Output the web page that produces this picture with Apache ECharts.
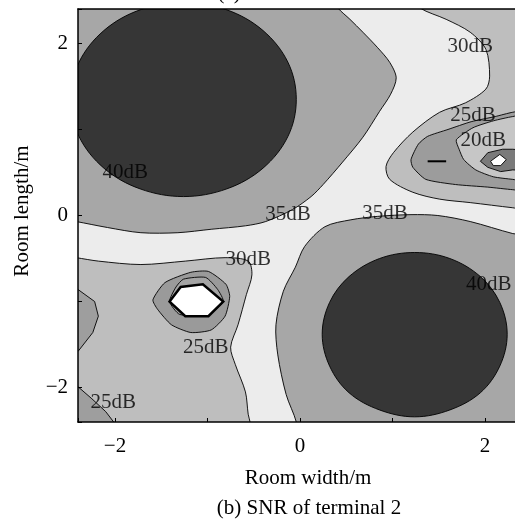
<!DOCTYPE html>
<html>
<head>
<meta charset="utf-8">
<script src="https://cdn.jsdelivr.net/npm/echarts@6/dist/echarts.min.js"></script>
<style>
  html, body { margin: 0; padding: 0; background: #fff; }
  #chart { width: 515px; height: 523px; }
</style>
</head>
<body>
<div id="chart"></div>
<script>
// contour boundaries, in metres (room width, room length)
const ulBand35 = [[-2.5,2.5],[0.36,2.5],[0.41,2.41],[0.54,2.28],[0.68,2.13],[0.84,1.95],[0.97,1.78],[1.04,1.60],[0.98,1.41],[0.86,1.21],[0.68,0.91],[0.46,0.62],[0.25,0.36],[0.12,0.22],[-0.08,0.07],[-0.37,-0.07],[-0.59,-0.12],[-0.96,-0.16],[-1.32,-0.20],[-1.72,-0.20],[-2.08,-0.14],[-2.42,-0.07],[-2.5,-0.06]];
const ulPeak40 = [[-0.04,1.35],[-0.13,1.78],[-0.40,2.15],[-0.79,2.39],[-1.26,2.48],[-1.73,2.39],[-2.12,2.15],[-2.39,1.78],[-2.48,1.35],[-2.39,0.92],[-2.12,0.55],[-1.73,0.31],[-1.26,0.22],[-0.79,0.31],[-0.40,0.55],[-0.13,0.92]];
const lrBand35 = [[-0.05,-2.5],[-0.04,-2.40],[-0.15,-2.08],[-0.24,-1.62],[-0.26,-1.27],[-0.18,-0.88],[-0.05,-0.60],[0.05,-0.36],[0.27,-0.13],[0.55,-0.05],[0.84,-0.01],[1.20,0.01],[1.49,0.0],[1.84,-0.07],[2.30,-0.21],[2.5,-0.25],[2.5,-2.5]];
const lrPeak40 = [[2.24,-1.38],[2.16,-1.01],[1.95,-0.71],[1.62,-0.50],[1.24,-0.43],[0.86,-0.50],[0.53,-0.71],[0.32,-1.01],[0.24,-1.38],[0.32,-1.75],[0.53,-2.06],[0.86,-2.26],[1.24,-2.34],[1.62,-2.26],[1.95,-2.06],[2.16,-1.75]];
const llBand25 = [[-2.5,-0.48],[-2.42,-0.49],[-2.18,-0.53],[-1.72,-0.57],[-1.24,-0.53],[-0.81,-0.49],[-0.56,-0.53],[-0.52,-0.69],[-0.58,-0.92],[-0.67,-1.27],[-0.75,-1.53],[-0.70,-1.73],[-0.59,-2.05],[-0.56,-2.31],[-0.54,-2.40],[-0.53,-2.5],[-2.5,-2.5]];
const leftDip20 = [[-2.5,-0.84],[-2.40,-0.86],[-2.22,-1.0],[-2.18,-1.17],[-2.24,-1.36],[-2.40,-1.58],[-2.5,-1.62]];
const cornerDip20 = [[-2.5,-1.92],[-2.40,-1.99],[-2.25,-2.13],[-2.10,-2.28],[-2.0,-2.42],[-1.98,-2.5],[-2.5,-2.5]];
const hexRing20 = [[-1.59,-0.98],[-1.46,-0.78],[-1.18,-0.66],[-0.99,-0.65],[-0.80,-0.80],[-0.76,-0.94],[-0.81,-1.17],[-0.96,-1.33],[-1.18,-1.36],[-1.39,-1.27],[-1.54,-1.09]];
const hexInner15 = [[-1.34,-0.83],[-1.26,-0.74],[-1.02,-0.72],[-0.89,-0.86],[-0.83,-1.0],[-0.99,-1.15],[-1.30,-1.15],[-1.41,-1.0]];
const hexCore = [[-1.41,-1.0],[-1.29,-0.83],[-1.05,-0.80],[-0.83,-1.0],[-0.99,-1.17],[-1.24,-1.17]];
const urBand25 = [[1.27,2.5],[1.30,2.41],[1.58,2.28],[1.84,2.13],[2.01,1.93],[2.05,1.62],[2.01,1.47],[1.79,1.31],[1.51,1.20],[1.22,0.97],[1.01,0.73],[0.93,0.57],[0.97,0.42],[1.22,0.27],[1.51,0.19],[1.84,0.15],[2.30,0.09],[2.5,0.07],[2.5,2.5]];
const urDip20 = [[2.5,1.22],[2.30,1.20],[2.11,1.15],[1.85,1.09],[1.60,1.0],[1.38,0.92],[1.28,0.83],[1.20,0.65],[1.22,0.56],[1.36,0.42],[1.68,0.36],[2.03,0.33],[2.30,0.30],[2.5,0.29]];
const urDip15 = [[1.69,0.88],[1.87,1.02],[2.09,1.10],[2.30,1.15],[2.5,1.17],[2.5,0.40],[2.30,0.42],[2.09,0.45],[1.90,0.53],[1.77,0.65],[1.72,0.77]];
const urRing10 = [[1.95,0.63],[2.03,0.73],[2.19,0.77],[2.30,0.77],[2.5,0.75],[2.5,0.52],[2.30,0.53],[2.17,0.51],[2.03,0.56]];
const urCore = [[2.06,0.63],[2.16,0.71],[2.23,0.65],[2.17,0.58],[2.09,0.58]];
const urDash = [[1.38,0.63],[1.58,0.63]];

const contourLabels = [
  [1.84, 1.97, '30dB'], [1.87, 1.16, '25dB'], [1.98, 0.87, '20dB'],
  [-1.89, 0.50, '40dB'], [-0.13, 0.01, '35dB'], [0.92, 0.02, '35dB'],
  [-0.56, -0.51, '30dB'], [-1.02, -1.53, '25dB'], [2.04, -0.80, '40dB'],
  [-2.02, -2.17, '25dB']
];
const tickLabels = { '-2': '\u22122', '0': '0', '2': '2' };

const serif = '"Liberation Serif", "Times New Roman", serif';

// draw order: outer bands first, peaks and dips on top
const regions = [
  { pts: ulBand35, fill: '#a7a7a7', smooth: 0.3 },
  { pts: ulPeak40, fill: '#363636', smooth: 0.35 },
  { pts: lrBand35, fill: '#a7a7a7', smooth: 0.3 },
  { pts: lrPeak40, fill: '#363636', smooth: 0.35 },
  { pts: llBand25, fill: '#bebebe', smooth: 0.3 },
  { pts: leftDip20, fill: '#9e9e9e', smooth: 0 },
  { pts: cornerDip20, fill: '#9e9e9e', smooth: 0 },
  { pts: hexRing20, fill: '#9a9a9a', smooth: 0.2 },
  { pts: hexInner15, fill: '#a4a4a4', smooth: 0.2 },
  { pts: hexCore, fill: '#ffffff', smooth: 0, lw: 2.5 },
  { pts: urBand25, fill: '#bebebe', smooth: 0.3 },
  { pts: urDip20, fill: '#9c9c9c', smooth: 0.2 },
  { pts: urDip15, fill: '#c6c6c6', smooth: 0.2 },
  { pts: urRing10, fill: '#7a7a7a', smooth: 0 },
  { pts: urCore, fill: '#ffffff', smooth: 0 },
  { pts: urDash, fill: null, smooth: 0, lw: 2, open: true }
];

const chart = echarts.init(document.getElementById('chart'));

const axisCommon = {
  type: 'value',
  min: -2.4,
  max: 2.4,
  splitLine: { show: false },
  z: 10
};
const frameLine = { onZero: false, lineStyle: { color: '#000', width: 1.5 } };
const tickFmt = v => tickLabels[String(Math.round(v * 10) / 10)] || '';

chart.setOption({
  backgroundColor: '#fff',
  animation: false,
  grid: {
    left: 78, right: -7, top: 9, bottom: 101,
    outerBoundsMode: 'none', containLabel: false,
    show: true, backgroundColor: '#ececec', borderWidth: 0
  },
  xAxis: [
    Object.assign({}, axisCommon, {
      position: 'bottom',
      axisLine: frameLine,
      axisTick: { inside: true, length: 4, lineStyle: { color: '#000' } },
      axisLabel: { color: '#000', fontFamily: serif, fontSize: 21, margin: 14, formatter: tickFmt }
    }),
    Object.assign({}, axisCommon, {
      position: 'top',
      axisLine: frameLine,
      axisTick: { show: false },
      axisLabel: { show: false }
    })
  ],
  yAxis: [
    Object.assign({}, axisCommon, {
      position: 'left',
      axisLine: frameLine,
      axisTick: { inside: true, length: 4, lineStyle: { color: '#000' } },
      axisLabel: { color: '#000', fontFamily: serif, fontSize: 21, margin: 10, formatter: tickFmt }
    }),
    Object.assign({}, axisCommon, {
      position: 'right',
      axisLine: frameLine,
      axisTick: { show: false },
      axisLabel: { show: false }
    })
  ],
  series: [
    {
      type: 'custom',
      clip: true,
      silent: true,
      data: regions.map(() => [0, 0]),
      renderItem: (params, api) => {
        const r = regions[params.dataIndex];
        const points = r.pts.map(p => api.coord(p));
        return {
          type: r.open ? 'polyline' : 'polygon',
          shape: { points, smooth: r.smooth },
          style: { fill: r.fill || 'none', stroke: '#000', lineWidth: r.lw || 0.9 }
        };
      }
    },
    {
      type: 'scatter',
      silent: true,
      symbolSize: 1,
      itemStyle: { color: 'transparent' },
      data: contourLabels,
      label: {
        show: true,
        position: 'inside',
        formatter: p => p.value[2],
        color: '#000',
        fontFamily: serif,
        fontSize: 21
      },
      z: 5
    }
  ],
  graphic: [
    { type: 'text', x: 308, y: 478, style: { text: 'Room width/m', font: '21px ' + serif, fill: '#000', textAlign: 'center', textVerticalAlign: 'middle' } },
    { type: 'text', x: 309, y: 508, style: { text: '(b) SNR of terminal 2', font: '21px ' + serif, fill: '#000', textAlign: 'center', textVerticalAlign: 'middle' } },
    { type: 'text', x: 309, y: -7, style: { text: '(a) SNR of terminal 1', font: '21px ' + serif, fill: '#000', textAlign: 'center', textVerticalAlign: 'middle' } },
    { type: 'text', x: 22, y: 211, rotation: Math.PI / 2, style: { text: 'Room length/m', font: '21px ' + serif, fill: '#000', textAlign: 'center', textVerticalAlign: 'middle' } }
  ]
});
</script>
</body>
</html>
